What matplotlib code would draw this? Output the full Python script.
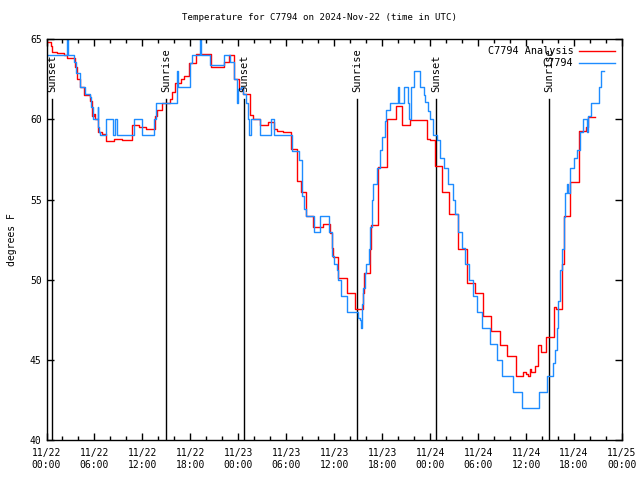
import numpy as np
import matplotlib.pyplot as plt

# hours since 2024-11-22 00:00 UTC
obs_h = [0.0, 2.55, 2.7, 3.45, 3.7, 4.2, 4.8, 5.45, 5.6, 5.8, 6.4, 6.5, 6.6, 6.75,
         7.5, 8.3, 8.55, 8.8, 10.9, 11.9, 13.4, 13.7, 16.3, 16.5, 17.9, 18.0, 18.2,
         19.15, 19.35, 20.5, 22.2, 23.0, 23.4, 23.8, 23.95, 24.3, 24.6, 24.9, 25.2,
         25.35, 25.6, 26.7, 28.1, 28.4, 30.7, 31.6, 32.0, 32.25, 32.5, 33.5, 34.2,
         35.3, 35.7, 36.0, 36.3, 36.5, 36.9, 37.6, 38.95, 39.2, 39.35, 39.5, 39.6,
         39.8, 40.0, 40.3, 40.5, 40.7, 40.9, 41.3, 41.7, 42.0, 42.3, 42.5, 43.0,
         43.95, 44.15, 44.7, 45.2, 45.4, 45.6, 46.0, 46.7, 47.2, 47.4, 47.7, 48.0,
         48.4, 48.8, 49.2, 49.7, 50.2, 50.8, 51.1, 51.5, 52.0, 52.4, 52.9, 53.4,
         53.8, 54.5, 55.5, 56.3, 57.0, 58.4, 59.5, 61.6, 62.6, 63.4, 63.6, 63.85,
         64.05, 64.27, 64.5, 64.7, 64.9, 65.1, 65.2, 65.5, 66.0, 66.4, 66.8, 67.06,
         67.6, 67.7, 68.1, 69.06, 69.4, 69.7]
obs_t = [64.0, 65.2, 64.0, 63.6, 62.9, 62.0, 61.6, 61.4, 60.8, 60.0, 60.8, 59.5, 59.2, 59.0,
         60.0, 59.0, 60.0, 59.0, 60.0, 59.0, 60.0, 61.0, 63.0, 62.0, 62.5, 63.5, 64.0,
         65.2, 64.0, 63.4, 64.0, 63.6, 62.5, 61.0, 61.9, 62.0, 61.6, 61.0, 60.0,
         59.0, 60.0, 59.0, 60.0, 59.0, 58.0, 57.5, 55.2, 54.4, 54.0, 53.0, 54.0,
         53.0, 51.5, 51.0, 50.6, 50.0, 49.0, 48.0, 47.6, 47.5, 47.0, 48.5, 49.5,
         50.4, 51.0, 51.9, 53.3, 55.0, 56.0, 57.0, 58.1, 58.9, 59.9, 60.6, 61.0,
         62.0, 61.0, 62.0, 61.0, 60.0, 62.0, 63.0, 62.0, 61.5, 61.1, 60.5, 60.0,
         59.0, 58.7, 57.6, 57.0, 56.0, 55.0, 54.1, 53.0, 52.0, 51.0, 50.0, 49.0,
         48.0, 47.0, 46.0, 45.0, 44.0, 43.0, 42.0, 43.0, 44.0, 44.8, 45.6, 47.0,
         48.7, 50.6, 51.9, 53.9, 55.4, 56.0, 55.4, 57.0, 57.6, 58.1, 59.2, 60.0,
         59.2, 60.2, 61.0, 62.0, 63.0, 63.0]

ana_h = [0.0, 0.55, 0.7, 1.35, 2.2, 2.6, 3.55, 3.8, 4.25, 4.75, 5.5, 5.65, 5.9, 6.1,
         6.5, 6.9, 7.4, 8.5, 9.5, 10.7, 11.6, 12.4, 13.6, 13.8, 14.5, 15.5, 15.75,
         16.1, 16.8, 17.2, 17.8, 18.7, 20.6, 22.25, 22.8, 23.5, 24.05, 24.6, 25.5,
         25.8, 26.7, 27.7, 28.5, 28.8, 29.6, 30.6, 31.3, 31.85, 32.5, 33.3, 34.6,
         35.5, 35.7, 35.8, 36.5, 37.6, 38.6, 39.55, 39.7, 40.5, 40.6, 41.5, 42.6,
         43.7, 44.5, 45.5, 47.6, 48.0, 48.6, 49.5, 50.4, 51.5, 52.6, 53.6, 54.6,
         55.6, 56.7, 57.6, 58.7, 58.8, 59.6, 60.0, 60.25, 60.5, 60.6, 61.1, 61.55,
         61.85, 62.5, 62.7, 63.5, 63.8, 64.5, 64.7, 65.5, 66.6, 67.5, 67.7, 68.6]
ana_t = [64.85, 64.6, 64.2, 64.15, 64.0, 63.85, 63.3, 62.5, 62.0, 61.5, 61.15, 60.2, 60.35, 60.0,
         59.2, 59.1, 58.65, 58.75, 58.7, 59.65, 59.55, 59.4, 60.2, 60.6, 61.05, 61.3, 61.7,
         62.3, 62.5, 62.7, 63.5, 64.1, 63.3, 63.6, 64.05, 62.5, 61.9, 61.6, 60.3,
         60.0, 59.65, 59.85, 59.4, 59.27, 59.2, 58.15, 56.15, 55.45, 54.0, 53.3, 53.5,
         52.9, 52.0, 51.4, 50.1, 49.15, 48.2, 49.2, 50.4, 51.9, 53.4, 57.05, 60.05,
         60.85, 59.65, 59.95, 58.8, 58.7, 57.1, 55.45, 54.1, 51.9, 49.8, 49.15, 47.75,
         46.8, 45.95, 45.25, 44.15, 44.0, 44.25, 44.1, 44.0, 44.45, 44.25, 44.6, 45.9,
         45.5, 46.45, 46.4, 48.3, 48.2, 51.0, 54.0, 56.1, 59.25, 59.5, 60.15, 60.15]

sun_h = [0.73, 14.94, 24.73, 38.85, 48.73, 62.85]
sun_lbl = ['Sunset', 'Sunrise', 'Sunset', 'Sunrise', 'Sunset', 'Sunrise']

tick_h = list(range(0, 73, 6))
tick_lbl = ['11/22\n00:00', '11/22\n06:00', '11/22\n12:00', '11/22\n18:00',
            '11/23\n00:00', '11/23\n06:00', '11/23\n12:00', '11/23\n18:00',
            '11/24\n00:00', '11/24\n06:00', '11/24\n12:00', '11/24\n18:00',
            '11/25\n00:00']

plt.rcParams['font.family'] = 'DejaVu Sans Mono'
plt.rcParams['font.size'] = 7

fig = plt.figure(figsize=(6.4, 4.8), dpi=100)
ax = fig.add_axes([46.5/640, 40/480, (622-46.5)/640, (440-39.3)/480])

for h, s in zip(sun_h, sun_lbl):
    ax.plot([h, h], [40, 61.3], color='black', lw=1.0)
    ax.text(h, 61.7, s, rotation=90, ha='center', va='bottom', fontsize=7.5)

ax.step(ana_h, ana_t, where='post', color='#ff0000', lw=1.0, label='C7794 Analysis')
ax.step(obs_h, obs_t, where='post', color='#1e8cff', lw=1.0, label='C7794')

ax.set_xlim(0, 72)
ax.set_ylim(40, 65)
ax.set_xticks(tick_h)
ax.set_xticklabels(tick_lbl)
ax.set_xticks(np.arange(0, 73, 2), minor=True)
ax.set_yticks([40, 45, 50, 55, 60, 65])
ax.tick_params(which='both', direction='in', top=True, right=True, width=1)
ax.tick_params(which='major', length=5)
ax.tick_params(which='minor', length=3)
ax.tick_params(axis='x', pad=6)
for sp in ax.spines.values():
    sp.set_linewidth(1)

ax.set_ylabel('degrees F', labelpad=9)
fig.suptitle('Temperature for C7794 on 2024-Nov-22 (time in UTC)', y=0.972, fontsize=6.6)

leg = ax.legend(loc='upper right', frameon=False, markerfirst=False, handlelength=3.5,
                borderaxespad=0.3, labelspacing=0.2, handletextpad=0.6, fontsize=7.3)

fig.savefig('out.png', dpi=100)
